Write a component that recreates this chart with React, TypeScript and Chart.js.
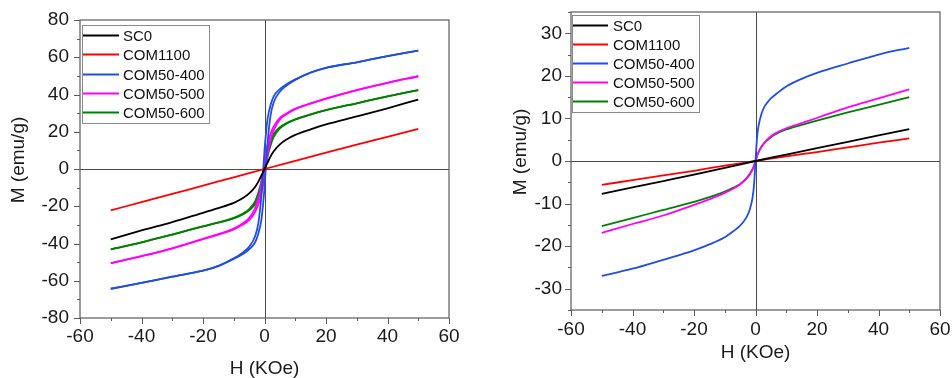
import React, { useEffect, useRef } from "react";
import { Chart, registerables } from "chart.js";

Chart.register(...registerables);

// ---------- data ----------
const H_GRID = [-50, -40, -30, -20, -15, -10, -7, -5, -3, -2, -1, -0.5, 0, 0.5, 1, 2, 3, 5, 7, 10, 15, 20, 30, 40, 50];
const H_LIN = [-50, -40, -30, -20, -10, 0, 10, 20, 30, 40, 50];

const X_TICKS = [-60, -40, -20, 0, 20, 40, 60];
const L_Y_TICKS = [-80, -60, -40, -20, 0, 20, 40, 60, 80];
const R_Y_TICKS = [-30, -20, -10, 0, 10, 20, 30];

const LEGEND_LABELS = ["SC0", "COM1100", "COM50-400", "COM50-500", "COM50-600"];
const COLORS = ["#000000", "#ff0000", "#1f4fe0", "#ff00ff", "#008000"];

// Left panel (as measured, with hysteresis branches)
const L_SC0 = [-37.8, -33, -28.5, -23.5, -21, -18.2, -15.6, -13.1, -9.5, -6.8, -3.5, -1.8, 0, 1.8, 3.5, 6.8, 9.5, 13.2, 15.7, 18.3, 21.3, 23.9, 28.2, 32.6, 37.3];
const L_COM1100 = [-22.2, -17.8, -13.4, -8.9, -4.5, 0, 4.4, 8.8, 13.1, 17.3, 21.5];
const L_COM50_400_DOWN = [-64.3, -61.2, -57.8, -54.6, -52, -48, -44.8, -41.8, -35.8, -29, -14, -2.5, 10, 19.5, 27, 34.5, 39, 42.9, 45.3, 48.1, 51.8, 54.3, 57.3, 60.6, 63.6];
const L_COM50_400_UP = [-64.3, -61.2, -57.8, -54.6, -52.1, -48.3, -45.6, -43.2, -39.2, -34.6, -27.2, -19.6, -10, 2.5, 14, 29, 35.8, 41.5, 44.6, 47.8, 51.7, 54.3, 57.3, 60.6, 63.6];
const L_COM50_500_DOWN = [-50.6, -46.8, -42.6, -37.5, -35, -32, -29.1, -26.4, -20.8, -15.8, -8, -2.4, 3.6, 9, 13, 19, 22.8, 27.4, 29.7, 32.4, 35.2, 37.8, 42.4, 46.3, 49.8];
const L_COM50_500_UP = [-50.6, -46.8, -42.6, -37.6, -35.2, -32.4, -29.8, -27.5, -22.8, -19, -13, -9, -3.6, 2.4, 8, 15.8, 20.8, 26.6, 29.2, 32.1, 35.1, 37.8, 42.4, 46.3, 49.8];
const L_COM50_600_DOWN = [-43.1, -39.4, -35.2, -30.8, -28.7, -26.2, -23.9, -21.5, -17.2, -12.7, -6.6, -2, 3, 7.4, 10.5, 15.2, 18.8, 22.5, 24.6, 26.7, 29.3, 31.6, 35.3, 39, 42.4];
const L_COM50_600_UP = [-43.1, -39.4, -35.2, -30.8, -28.8, -26.5, -24.4, -22.2, -18.8, -15.2, -10.5, -7.4, -3, 2, 6.6, 12.7, 17.2, 21.8, 24.2, 26.5, 29.2, 31.6, 35.3, 39, 42.4];

// Right panel
const R_SC0 = [-7.7, -6.2, -4.7, -3.2, -1.6, 0, 1.5, 3.0, 4.5, 6.0, 7.5];
const R_COM1100 = [-5.6, -4.5, -3.4, -2.3, -1.1, 0, 1.1, 2.1, 3.2, 4.3, 5.3];
const R_COM50_400 = [-27.0, -25.3, -23.2, -21.0, -19.6, -17.9, -16.4, -15.2, -13.3, -11.7, -8.8, -5.8, 0, 5.5, 8.3, 11.2, 12.9, 14.7, 15.9, 17.5, 19.3, 20.7, 22.9, 25.0, 26.6];
const R_COM50_500 = [-16.9, -14.8, -12.8, -10.3, -9, -7.5, -6.4, -5.5, -4.2, -3.3, -2, -1.2, 0, 1.2, 2.1, 3.4, 4.4, 5.8, 6.7, 7.7, 8.9, 10.1, 12.6, 14.7, 16.8];
const R_COM50_600 = [-15.3, -13.4, -11.5, -9.6, -8.5, -7.2, -6.2, -5.4, -4.1, -3.2, -2, -1.2, 0, 1.2, 2.1, 3.4, 4.3, 5.6, 6.5, 7.4, 8.5, 9.5, 11.4, 13.2, 15.0];

const X_TITLE = "H (KOe)";
const Y_TITLE = "M (emu/g)";

// ---------- helpers ----------
const FONT = "Arial, 'Liberation Sans', sans-serif";
const TEXT_COLOR = "#1a1a1a";
const AXIS_COLOR = "#5a5a5a";

type Series = { label: string; color: string; h: number[]; m: number[] };

function toDatasets(list: Series[]) {
  return list.map((s) => ({
    label: s.label,
    data: s.h.map((x, i) => ({ x, y: s.m[i] })),
    borderColor: s.color,
    backgroundColor: s.color,
    borderWidth: 1.8,
    pointRadius: 0,
    pointHoverRadius: 0,
    showLine: true,
    fill: false,
    cubicInterpolationMode: "monotone" as const,
  }));
}

const axesPlugin = {
  id: "mhAxes",
  beforeDatasetsDraw(chart: any) {
    const { ctx, chartArea, scales } = chart;
    const { left, right, top, bottom } = chartArea;
    const x0 = Math.round(scales.x.getPixelForValue(0)) + 0.5;
    const y0 = Math.round(scales.y.getPixelForValue(0)) + 0.5;
    ctx.save();
    ctx.strokeStyle = "#4a4a4a";
    ctx.lineWidth = 1;
    ctx.beginPath();
    ctx.moveTo(x0, top);
    ctx.lineTo(x0, bottom);
    ctx.moveTo(left, y0);
    ctx.lineTo(right, y0);
    ctx.stroke();
    ctx.restore();
  },
  afterDraw(chart: any, _args: any, opts: any) {
    const { ctx, chartArea, scales } = chart;
    const { left, right, top, bottom } = chartArea;
    const xs = scales.x;
    const ys = scales.y;
    ctx.save();
    ctx.strokeStyle = AXIS_COLOR;
    ctx.lineWidth = 1.2;
    ctx.strokeRect(left, top, right - left, bottom - top);

    // major & minor ticks (outward)
    ctx.lineWidth = 1;
    ctx.beginPath();
    for (let v = xs.min; v <= xs.max + 1e-9; v += opts.xMinor) {
      const p = Math.round(xs.getPixelForValue(v)) + 0.5;
      const major = Math.abs(v / opts.xMajor - Math.round(v / opts.xMajor)) < 1e-6;
      ctx.moveTo(p, bottom);
      ctx.lineTo(p, bottom + (major ? 6 : 3));
    }
    for (let v = ys.min; v <= ys.max + 1e-9; v += opts.yMinor) {
      const p = Math.round(ys.getPixelForValue(v)) + 0.5;
      const major = Math.abs(v / opts.yMajor - Math.round(v / opts.yMajor)) < 1e-6;
      ctx.moveTo(left, p);
      ctx.lineTo(left - (major ? 6 : 3), p);
    }
    ctx.stroke();

    // y axis title (rotated)
    ctx.save();
    ctx.fillStyle = TEXT_COLOR;
    ctx.font = `19px ${FONT}`;
    ctx.textAlign = "center";
    ctx.textBaseline = "middle";
    ctx.translate(opts.yTitleX, (top + bottom) / 2 + opts.yTitleShift);
    ctx.rotate(-Math.PI / 2);
    ctx.fillText(Y_TITLE, 0, 0);
    ctx.restore();

    // legend
    const lg = opts.legend;
    ctx.fillStyle = "#ffffff";
    ctx.fillRect(lg.x, lg.y, lg.w, lg.h);
    ctx.strokeStyle = "#8a8a8a";
    ctx.lineWidth = 1;
    ctx.strokeRect(lg.x + 0.5, lg.y + 0.5, lg.w, lg.h);
    ctx.font = `15px ${FONT}`;
    ctx.textBaseline = "middle";
    ctx.textAlign = "left";
    LEGEND_LABELS.forEach((label, i) => {
      const cy = Math.round(lg.y + lg.first + i * lg.step) + 0.5;
      ctx.strokeStyle = COLORS[i];
      ctx.lineWidth = 1.8;
      ctx.beginPath();
      ctx.moveTo(lg.lineX0, cy);
      ctx.lineTo(lg.lineX1, cy);
      ctx.stroke();
      ctx.fillStyle = "#111111";
      ctx.fillText(label, lg.textX, cy + 1);
    });
    ctx.restore();
  },
};

type PanelSpec = {
  series: Series[];
  yMin: number;
  yMax: number;
  yTicks: number[];
  yMajor: number;
  yMinor: number;
  yWidth: number;
  xHeight: number;
  pad: { top: number; right: number; bottom: number };
  yTickPad: number;
  xTickPad: number;
  yTitleX: number;
  legend: any;
};

function fixedTicks(values: number[]) {
  return (scale: any) => {
    scale.ticks = values.map((v) => ({ value: v }));
  };
}

function makeConfig(spec: PanelSpec): any {
  return {
    type: "scatter",
    data: { datasets: toDatasets(spec.series) },
    plugins: [axesPlugin],
    options: {
      animation: false,
      responsive: false,
      devicePixelRatio: 1,
      events: [],
      layout: { padding: { left: 0, top: spec.pad.top, right: spec.pad.right, bottom: spec.pad.bottom } },
      plugins: {
        legend: { display: false },
        tooltip: { enabled: false },
        mhAxes: {
          xMinor: 10,
          xMajor: 20,
          yMinor: spec.yMinor,
          yMajor: spec.yMajor,
          yTitleX: spec.yTitleX,
          yTitleShift: -9,
          legend: spec.legend,
        },
      },
      scales: {
        x: {
          type: "linear",
          min: -60,
          max: 60,
          grid: { display: false, drawTicks: false },
          border: { display: false },
          afterBuildTicks: fixedTicks(X_TICKS),
          ticks: {
            autoSkip: false,
            maxRotation: 0,
            padding: spec.xTickPad,
            color: TEXT_COLOR,
            font: { family: FONT, size: 19 },
          },
          title: {
            display: true,
            text: X_TITLE,
            color: TEXT_COLOR,
            font: { family: FONT, size: 19, lineHeight: 1 },
            padding: { top: 0, bottom: 0 },
          },
          afterFit: (s: any) => {
            s.height = spec.xHeight;
            s.paddingLeft = 0;
            s.paddingRight = 0;
          },
        },
        y: {
          type: "linear",
          min: spec.yMin,
          max: spec.yMax,
          grid: { display: false, drawTicks: false },
          border: { display: false },
          afterBuildTicks: fixedTicks(spec.yTicks),
          ticks: {
            autoSkip: false,
            padding: spec.yTickPad,
            color: TEXT_COLOR,
            font: { family: FONT, size: 19 },
          },
          afterFit: (s: any) => {
            s.width = spec.yWidth;
            s.paddingTop = 0;
            s.paddingBottom = 0;
          },
        },
      },
    },
  };
}

const LEFT_SPEC: PanelSpec = {
  series: [
    { label: "SC0", color: COLORS[0], h: H_GRID, m: L_SC0 },
    { label: "COM1100", color: COLORS[1], h: H_LIN, m: L_COM1100 },
    { label: "COM50-400", color: COLORS[2], h: H_GRID, m: L_COM50_400_DOWN },
    { label: "COM50-400", color: COLORS[2], h: H_GRID, m: L_COM50_400_UP },
    { label: "COM50-500", color: COLORS[3], h: H_GRID, m: L_COM50_500_DOWN },
    { label: "COM50-500", color: COLORS[3], h: H_GRID, m: L_COM50_500_UP },
    { label: "COM50-600", color: COLORS[4], h: H_GRID, m: L_COM50_600_DOWN },
    { label: "COM50-600", color: COLORS[4], h: H_GRID, m: L_COM50_600_UP },
  ],
  yMin: -80,
  yMax: 80,
  yTicks: L_Y_TICKS,
  yMajor: 20,
  yMinor: 10,
  yWidth: 80,
  xHeight: 60,
  pad: { top: 20, right: 27, bottom: 0 },
  yTickPad: 11,
  xTickPad: 7,
  yTitleX: 19,
  legend: { x: 82, y: 25, w: 127, h: 98, first: 10, step: 19.3, lineX0: 83, lineX1: 119, textX: 123 },
};

const RIGHT_SPEC: PanelSpec = {
  series: [
    { label: "SC0", color: COLORS[0], h: H_LIN, m: R_SC0 },
    { label: "COM1100", color: COLORS[1], h: H_LIN, m: R_COM1100 },
    { label: "COM50-400", color: COLORS[2], h: H_GRID, m: R_COM50_400 },
    { label: "COM50-500", color: COLORS[3], h: H_GRID, m: R_COM50_500 },
    { label: "COM50-600", color: COLORS[4], h: H_GRID, m: R_COM50_600 },
  ],
  yMin: -35,
  yMax: 35,
  yTicks: R_Y_TICKS,
  yMajor: 10,
  yMinor: 5,
  yWidth: 95,
  xHeight: 52,
  pad: { top: 12, right: 12, bottom: 16 },
  yTickPad: 9,
  xTickPad: 8,
  yTitleX: 45,
  legend: { x: 96, y: 15, w: 127, h: 97, first: 10, step: 19, lineX0: 97, lineX1: 132, textX: 137 },
};

function Panel({ spec, left }: { spec: PanelSpec; left: number }) {
  const ref = useRef<HTMLCanvasElement | null>(null);
  useEffect(() => {
    if (!ref.current) return;
    const chart = new Chart(ref.current, makeConfig(spec));
    return () => chart.destroy();
  }, [spec]);
  return (
    <canvas
      ref={ref}
      width={476}
      height={378}
      style={{ position: "absolute", left, top: 0, width: 476, height: 378, display: "block" }}
    />
  );
}

export default function App() {
  return (
    <div style={{ position: "fixed", left: 0, top: 0, width: 952, height: 378, background: "#ffffff", overflow: "hidden" }}>
      <Panel spec={LEFT_SPEC} left={0} />
      <Panel spec={RIGHT_SPEC} left={476} />
    </div>
  );
}
